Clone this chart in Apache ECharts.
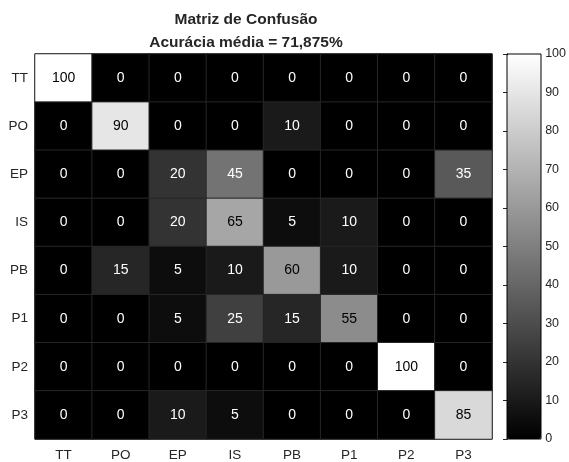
<!DOCTYPE html>
<html><head><meta charset="utf-8">
<script src="https://cdn.jsdelivr.net/npm/echarts@6/dist/echarts.min.js"></script>
<style>html,body{margin:0;padding:0;background:#fff}#c{width:569px;height:462px}</style>
</head><body><div id="c"></div>
<script>
const classes = ['TT','PO','EP','IS','PB','P1','P2','P3'];
const matrix = [
  [100,0,0,0,0,0,0,0],
  [0,90,0,0,10,0,0,0],
  [0,0,20,45,0,0,0,35],
  [0,0,20,65,5,10,0,0],
  [0,15,5,10,60,10,0,0],
  [0,0,5,25,15,55,0,0],
  [0,0,0,0,0,0,100,0],
  [0,0,10,5,0,0,0,85]
];
const titleText = 'Matriz de Confusão\nAcurácia média = 71,875%';
const colorbarTicks = [0,10,20,30,40,50,60,70,80,90,100];

const data = [];
matrix.forEach((row, r) => row.forEach((v, c) => {
  data.push({value: [c, r, v], label: {color: v >= 50 ? '#000' : '#fff'}});
}));

const font = 'Liberation Sans, Arial, sans-serif';
const chart = echarts.init(document.getElementById('c'));
chart.setOption({
  animation: false,
  title: {text: titleText, left: 241, top: 3, textAlign: 'center',
    textStyle: {fontFamily: font, fontSize: 15.5, fontWeight: 'bold', color: '#262626', lineHeight: 23}},
  grid: [
    {left: 35, top: 54, width: 457, height: 385, show: true, borderColor: '#262626', borderWidth: 1},
    {left: 507, top: 54, width: 34, height: 385, show: false}
  ],
  xAxis: [
    {type: 'category', data: classes, gridIndex: 0, axisLine: {show: false}, axisTick: {show: false},
      axisLabel: {fontFamily: font, fontSize: 13.5, color: '#262626', margin: 9}, splitLine: {show: false}},
    {type: 'value', gridIndex: 1, show: false}
  ],
  yAxis: [
    {type: 'category', data: classes, inverse: true, gridIndex: 0, axisLine: {show: false}, axisTick: {show: false},
      axisLabel: {fontFamily: font, fontSize: 13.5, color: '#262626', margin: 7}},
    {type: 'value', gridIndex: 1, position: 'right', min: 0, max: 100, interval: 10,
      axisLine: {show: true, lineStyle: {color: '#000', width: 1}},
      axisTick: {show: true, inside: true, length: 4, lineStyle: {color: '#262626'}},
      splitLine: {show: false},
      axisLabel: {fontFamily: font, fontSize: 12.5, color: '#262626', margin: 5}}
  ],
  visualMap: {
    type: 'continuous', min: 0, max: 100, seriesIndex: 0, calculable: false,
    orient: 'vertical', left: 507, top: 54, itemWidth: 34, itemHeight: 385, padding: 0,
    text: null, showLabel: false, inRange: {color: ['#000000', '#ffffff']},
    hoverLink: false
  },
  graphic: [{type: 'rect', shape: {x: 507, y: 54, width: 34, height: 385},
    style: {fill: 'none', stroke: '#000', lineWidth: 1}, z: 100}],
  series: [{
    type: 'heatmap', xAxisIndex: 0, yAxisIndex: 0, data: data,
    label: {show: true, fontFamily: font, fontSize: 14, formatter: p => p.value[2]},
    itemStyle: {borderColor: '#262626', borderWidth: 1}
  }]
});
</script></body></html>
